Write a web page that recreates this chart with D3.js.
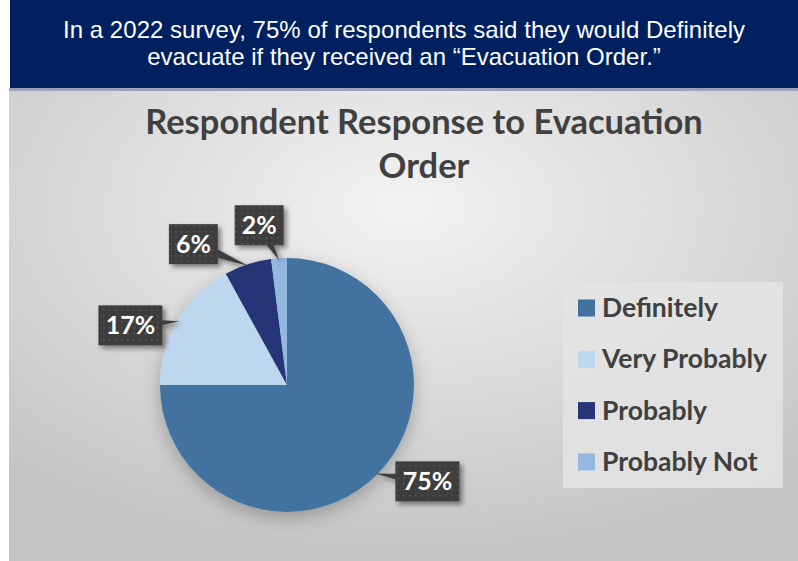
<!DOCTYPE html>
<html><head><meta charset="utf-8">
<script src="https://cdn.jsdelivr.net/npm/d3@7/dist/d3.min.js"></script>
<style>
html,body{margin:0;padding:0;background:#fff;}
svg{display:block;}
</style></head>
<body>
<svg id="chart" width="798" height="561"></svg>
<script>
const categories = ["Definitely", "Very Probably", "Probably", "Probably Not"];
const values = [75, 17, 6, 2];
const valueLabels = ["75%", "17%", "6%", "2%"];
const colors = ["#43729f", "#bdd7ee", "#263577", "#94b9e0"];
const bannerLines = ["In a 2022 survey, 75% of respondents said they would Definitely", "evacuate if they received an \u201cEvacuation Order.\u201d"];
const titleLines = ["Respondent Response to Evacuation", "Order"];
// label box offset from slice edge point
const labelOffsets = [[52, 8], [-49, 4], [-55, -22], [-20, -35]];

const svg = d3.select("#chart");
const defs = svg.append("defs");

const bg = defs.append("radialGradient").attr("id", "bgGrad")
  .attr("cx", "50%").attr("cy", "25%").attr("r", "75%");
bg.append("stop").attr("offset", "0%").attr("stop-color", "#f3f3f3");
bg.append("stop").attr("offset", "100%").attr("stop-color", "#c4c4c4");

const pat = defs.append("pattern").attr("id", "dots").attr("patternUnits", "userSpaceOnUse")
  .attr("width", 6).attr("height", 6);
pat.append("rect").attr("width", 6).attr("height", 6).attr("fill", "#3d3d3d");
pat.append("rect").attr("x", 2).attr("y", 2).attr("width", 1.5).attr("height", 1.5).attr("fill", "#5a5a5a");

const sh = defs.append("filter").attr("id", "shadow").attr("x", "-30%").attr("y", "-30%").attr("width", "160%").attr("height", "160%");
sh.append("feDropShadow").attr("dx", 3).attr("dy", 3).attr("stdDeviation", 2.5).attr("flood-color", "#000").attr("flood-opacity", 0.45);

const psh = defs.append("filter").attr("id", "pieShadow").attr("x", "-30%").attr("y", "-30%").attr("width", "160%").attr("height", "160%");
psh.append("feDropShadow").attr("dx", 0).attr("dy", 6).attr("stdDeviation", 9).attr("flood-color", "#000").attr("flood-opacity", 0.25);

// chart background
svg.append("rect").attr("x", 9).attr("y", 89).attr("width", 789).attr("height", 472).attr("fill", "url(#bgGrad)");
svg.append("rect").attr("x", 9).attr("y", 88).attr("width", 789).attr("height", 3).attr("fill", "#9aa3b8");

// banner
svg.append("rect").attr("x", 10).attr("y", 0).attr("width", 788).attr("height", 88).attr("fill", "#002060");
svg.append("g").selectAll("text").data(bannerLines).join("text")
  .attr("x", 404).attr("y", (d, i) => 38 + i * 27)
  .attr("text-anchor", "middle").attr("fill", "#fff")
  .style("font-family", "'Liberation Sans', Arial, sans-serif").style("font-size", "24px")
  .attr("textLength", (d, i) => i === 0 ? 682 : null)
  .text(d => d);

// title
svg.append("g").selectAll("text").data(titleLines).join("text")
  .attr("x", 424).attr("y", (d, i) => 134 + i * 44)
  .attr("text-anchor", "middle").attr("fill", "#404040")
  .style("font-family", "Lato, 'Open Sans', sans-serif").style("font-weight", "bold").style("font-size", "34.5px")
  .text(d => d);

// pie
const cx = 287, cy = 385, r = 127;
const pie = d3.pie().sort(null).value(d => d)(values);
const arc = d3.arc().innerRadius(0).outerRadius(r);
const g = svg.append("g").attr("transform", `translate(${cx},${cy})`);
g.append("g").attr("filter", "url(#pieShadow)").selectAll("path").data(pie).join("path")
  .attr("d", arc).attr("fill", (d, i) => colors[i]).attr("stroke", "none");

// labels
const tipArc = d3.arc().innerRadius(r - 2).outerRadius(r - 2);
pie.forEach((d, i) => {
  const [tx, ty] = tipArc.centroid(d);
  const bx = tx + labelOffsets[i][0], by = ty + labelOffsets[i][1];
  const lg = g.append("g").attr("filter", "url(#shadow)");
  const w = valueLabels[i].length > 2 ? 64 : 49, h = 40;
  const dx = tx - bx, dy = ty - by, len = Math.hypot(dx, dy);
  const px = -dy / len * 7, py = dx / len * 7;
  lg.append("path").attr("d", `M${bx + px},${by + py}L${tx},${ty}L${bx - px},${by - py}Z`).attr("fill", "#3d3d3d");
  lg.append("rect").attr("x", bx - w / 2).attr("y", by - h / 2).attr("width", w).attr("height", h).attr("fill", "url(#dots)");
  g.append("text").attr("x", bx).attr("y", by + 9).attr("text-anchor", "middle").attr("fill", "#fff")
    .style("font-family", "Lato, 'Open Sans', sans-serif").style("font-weight", "bold").style("font-size", "25px")
    .text(valueLabels[i]);
});

// legend
const leg = svg.append("g");
leg.append("rect").attr("x", 563).attr("y", 282).attr("width", 220).attr("height", 206).attr("fill", "#e4e4e4").attr("opacity", 0.85);
const rows = leg.selectAll("g.row").data(categories).join("g").attr("class", "row")
  .attr("transform", (d, i) => `translate(578,${308 + i * 51.3})`);
rows.append("rect").attr("x", 0).attr("y", -8.5).attr("width", 17).attr("height", 17).attr("fill", (d, i) => colors[i]);
rows.append("text").attr("x", 24).attr("y", 9).attr("fill", "#404040")
  .style("font-family", "Lato, 'Open Sans', sans-serif").style("font-weight", "bold").style("font-size", "26.5px")
  .text(d => d);
</script>
</body></html>
